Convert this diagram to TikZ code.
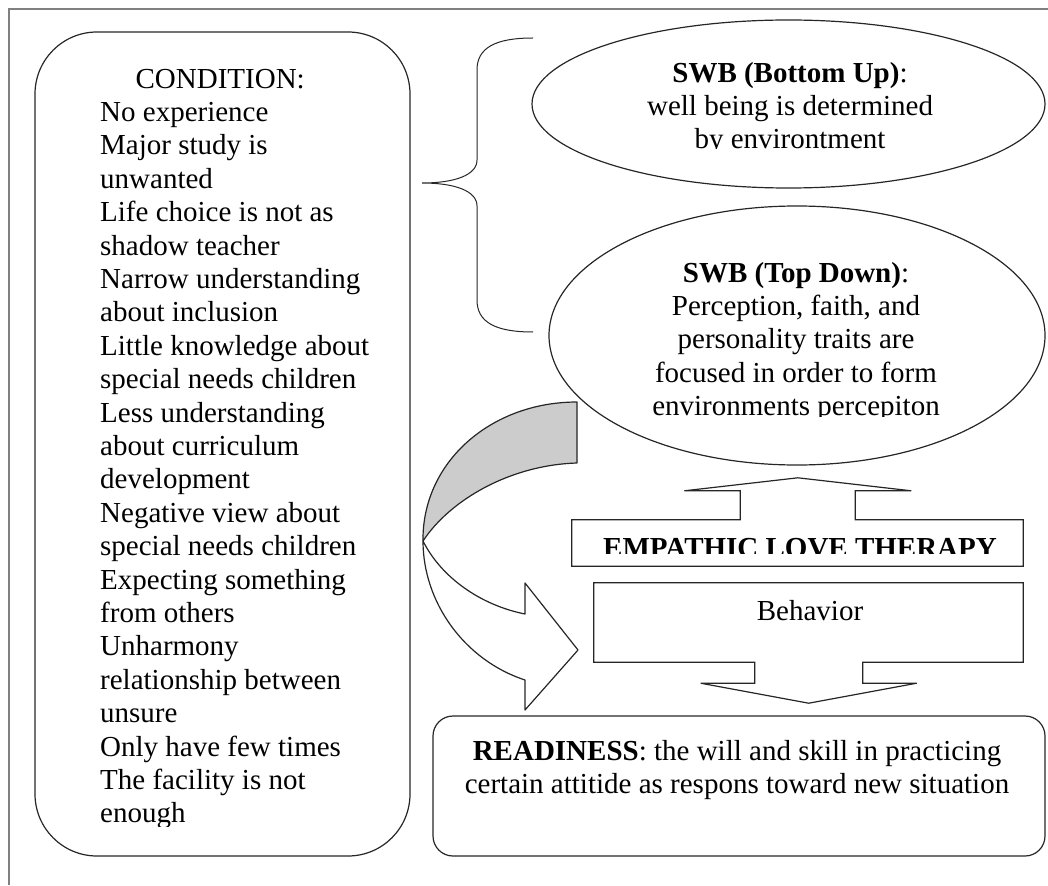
\documentclass[tikz,border=0pt]{standalone}
\usepackage{fontspec}
\setmainfont{Liberation Serif}
\usetikzlibrary{shapes.geometric, positioning}

\begin{document}
\begin{tikzpicture}[
  x=1pt, y=-1pt,
  every node/.style={font=\fontsize{29}{33.4}\selectfont},
  shapeline/.style={draw=black!85, line width=1.2pt},
  pageframe/.style={draw=black!50, line width=1.6pt},
  condbox/.style={shapeline, rectangle, rounded corners=62pt,
                  minimum width=375pt, minimum height=824pt, inner sep=0pt},
  swb/.style={shapeline, ellipse, inner sep=0pt},
  readybox/.style={shapeline, rectangle, rounded corners=20pt,
                   minimum width=612pt, minimum height=140pt, inner sep=0pt},
  calloutbox/.style={rectangle, inner sep=0pt},
  txt/.style={inner sep=0pt, align=center},
  ribbon/.style={shapeline, line join=round},
]
\useasboundingbox (0,0) rectangle (1048,885);
\draw[pageframe] (9,885) -- (9,9) -- (1048,9);

%% Condition (left column)
\node[condbox] (cond) at (222.5,444) {};
\begin{scope}
  \clip (35,32) rectangle (410,826);
  \node[txt, align=left, anchor=north west] (condtxt) at (100,64.6)
    {\strut\makebox[240pt]{CONDITION:}\\
     No experience\\Major study is\\unwanted\\
     Life choice is not as\\shadow teacher\\
     Narrow understanding\\about inclusion\\
     Little knowledge about\\special needs children\\
     Less understanding\\about curriculum\\development\\
     Negative view about\\special needs children\\
     Expecting something\\from others\\
     Unharmony\\relationship between\\unsure\\
     Only have few times\\The facility is not\\enough};
\end{scope}

% brace
\draw[shapeline, line width=1pt] (533,38) .. controls (495,38) and (477,48) .. (477,70)
  -- (477,160) .. controls (477,175) and (455,183) .. (422,183)
  .. controls (455,183) and (477,191) .. (477,206)
  -- (477,300) .. controls (477,322) and (495,332) .. (533,332);

%% SWB ellipses
\node[swb, minimum width=513pt, minimum height=168pt] (bu) at (788.5,104) {};
\node[swb, minimum width=496pt, minimum height=259pt] (td) at (797,335.5) {};

\begin{scope}
  \clip (532,20) rectangle (1045,149);
  \node[txt, anchor=north] (butxt) at (790,58.6)
    {\strut\textbf{SWB (Bottom Up)}:\\well being is determined\\by environtment};
\end{scope}
\begin{scope}
  \clip (549,206) rectangle (1045,416);
  \node[txt, anchor=north] (tdtxt) at (796,258.6)
    {\strut\textbf{SWB (Top Down)}:\\Perception, faith, and\\personality traits are\\
     focused in order to form\\environments percepiton};
\end{scope}

% curved arrow
\filldraw[ribbon, fill=black!20] (577,402) .. controls (491,402) and (422,462) .. (423,541)
  .. controls (450,500) and (510,465) .. (577,463) -- cycle;
\filldraw[ribbon, fill=white] (423,541) .. controls (423,602) and (464,660) .. (525,680)
  -- (525,710) -- (578,650) -- (525,583) -- (525,614)
  .. controls (480,605) and (441,577) .. (423,541) -- cycle;

%% Empathic love therapy (up arrow callout)
\node[calloutbox, minimum width=451pt, minimum height=46pt] (emp) at (797.5,543) {};
\draw[shapeline] (emp.south west) -- (emp.north west) -- ++(168.5,0) -- ++(0,-29)
  -- ++(-56,0) -- ++(113.5,-13) -- ++(113.5,13) -- ++(-56,0) -- ++(0,29)
  -- (emp.north east) -- (emp.south east) -- cycle;
\begin{scope}
  \clip (572,520) rectangle (1023,553);
  \node[anchor=base, inner sep=0pt] (emptxt) at (800,557) {\textbf{EMPATHIC LOVE THERAPY}};
\end{scope}

%% Behavior (down arrow callout)
\node[calloutbox, minimum width=429pt, minimum height=79pt] (beh) at (808.5,622.5) {};
\draw[shapeline] (beh.north west) -- (beh.north east) -- (beh.south east) -- ++(-160.5,0)
  -- ++(0,21) -- ++(54,0) -- ++(-108,20) -- ++(-108,-20) -- ++(54,0) -- ++(0,-21)
  -- (beh.south west) -- cycle;
\node[anchor=base, inner sep=0pt] (behtxt) at (810,620) {Behavior};

%% Readiness
\node[readybox] (ready) at (739,786) {};
\node[txt, anchor=north] (readytxt) at (737,736.6)
  {\strut\textbf{READINESS}: the will and skill in practicing\\
   certain attitide as respons toward new situation};

\end{tikzpicture}
\end{document}
